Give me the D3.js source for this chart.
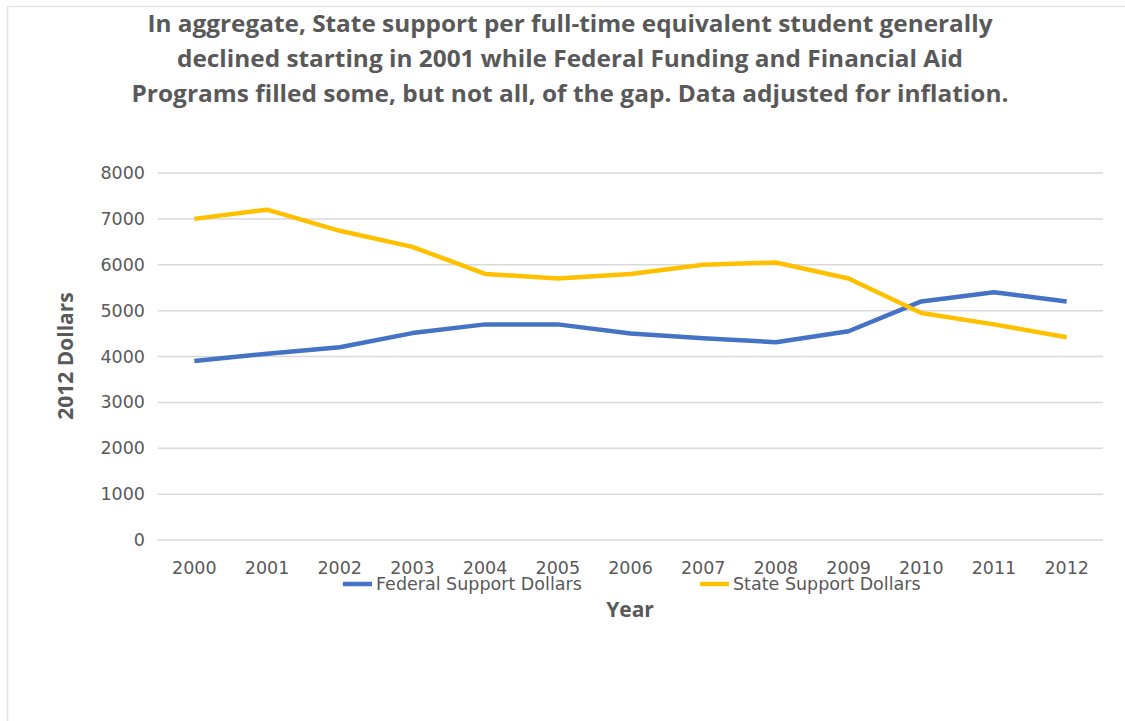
<!DOCTYPE html>
<html lang="en">
    <head>
        <meta charset="utf-8">
        <title>State vs Federal support</title>
        <script src="https://d3js.org/d3.v7.min.js"></script>
        <style type="text/css">
            body { margin: 0; background: #fff; }
            .title { font-family: "Open Sans", sans-serif; font-weight: bold; font-size: 22.5px; fill: #595959; }
            .tick text { font-family: "DejaVu Sans", sans-serif; font-size: 17.5px; fill: #595959; }
            .axisTitle { font-family: "Open Sans", sans-serif; font-weight: bold; font-size: 21px; fill: #595959; }
            .legend { font-family: "DejaVu Sans", sans-serif; font-size: 17.5px; fill: #595959; }
        </style>
    </head>
    <body>
        <script type="text/javascript">
            // Data
            const years = ["2000","2001","2002","2003","2004","2005","2006","2007","2008","2009","2010","2011","2012"];
            const federal = [3900, 4060, 4200, 4510, 4700, 4700, 4500, 4400, 4310, 4550, 5200, 5400, 5200];
            const state = [7000, 7200, 6740, 6390, 5800, 5700, 5800, 6000, 6050, 5700, 4950, 4700, 4420];
            const yTicks = [0, 1000, 2000, 3000, 4000, 5000, 6000, 7000, 8000];
            const seriesNames = ["Federal Support Dollars", "State Support Dollars"];
            const titleLines = [
                "In aggregate, State support per full-time equivalent student generally",
                "declined starting in 2001 while Federal Funding and Financial Aid",
                "Programs filled some, but not all, of the gap. Data adjusted for inflation."
            ];
            const titleWidths = [845, 786, 877];

            //constants
            const w = 1125;
            const h = 721;
            const plot = {left: 158, right: 1103, top: 173, bottom: 540};
            const colors = ["#4472C4", "#FFC000"];

            const svg = d3.select("body")
                          .append("svg")
                          .attr("width", w)
                          .attr("height", h);

            // frame
            svg.append("path")
               .attr("d", "M7.5," + h + "V6.5H" + w)
               .attr("fill", "none")
               .attr("stroke", "#e3e3e3")
               .attr("stroke-width", 1.5);

            //title
            svg.selectAll("text.title")
               .data(titleLines)
               .enter()
               .append("text")
               .attr("class", "title")
               .attr("x", 570)
               .attr("y", (d, i) => 32 + i * 35)
               .attr("text-anchor", "middle")
               .attr("textLength", (d, i) => titleWidths[i])
               .attr("lengthAdjust", "spacingAndGlyphs")
               .text(d => d);

            //scales
            const x = d3.scaleBand().domain(years).range([plot.left, plot.right]);
            const y = d3.scaleLinear().domain([0, 8000]).range([plot.bottom, plot.top]);

            //gridlines
            svg.append("g")
               .selectAll("line")
               .data(yTicks)
               .enter()
               .append("line")
               .attr("x1", plot.left)
               .attr("x2", plot.right)
               .attr("y1", d => y(d))
               .attr("y2", d => y(d))
               .attr("stroke", "#d9d9d9")
               .attr("stroke-width", 1.5);

            //axes
            const yAxis = svg.append("g")
               .attr("transform", "translate(" + (plot.left - 13) + ",0)")
               .call(d3.axisLeft(y).tickValues(yTicks).tickFormat(d3.format("d")).tickSize(0).tickPadding(0));
            yAxis.select(".domain").remove();

            const xAxis = svg.append("g")
               .attr("transform", "translate(0," + (plot.bottom + 14) + ")")
               .call(d3.axisBottom(x).tickSize(0).tickPadding(8));
            xAxis.select(".domain").remove();

            //lines
            const line = d3.line()
                           .x((d, i) => x(years[i]) + x.bandwidth() / 2)
                           .y(d => y(d));

            svg.selectAll("path.series")
               .data([federal, state])
               .enter()
               .append("path")
               .attr("class", "series")
               .attr("fill", "none")
               .attr("stroke", (d, i) => colors[i])
               .attr("stroke-width", 4.5)
               .attr("stroke-linejoin", "round")
               .attr("d", line);

            //legend
            const legend = svg.selectAll("g.legendItem")
               .data(seriesNames)
               .enter()
               .append("g")
               .attr("class", "legendItem")
               .attr("transform", (d, i) => "translate(" + (i === 0 ? 343 : 700) + ",584)");
            legend.append("line")
                  .attr("x1", 0).attr("x2", 29)
                  .attr("stroke", (d, i) => colors[i])
                  .attr("stroke-width", 4.5);
            legend.append("text")
                  .attr("class", "legend")
                  .attr("x", 33)
                  .attr("y", 6)
                  .text(d => d);

            //axis titles
            svg.append("text")
               .attr("class", "axisTitle")
               .attr("transform", "translate(73,356) rotate(-90)")
               .attr("text-anchor", "middle")
               .text("2012 Dollars");

            svg.append("text")
               .attr("class", "axisTitle")
               .attr("x", 630)
               .attr("y", 617)
               .attr("text-anchor", "middle")
               .text("Year");
        </script>
    </body>
</html>
